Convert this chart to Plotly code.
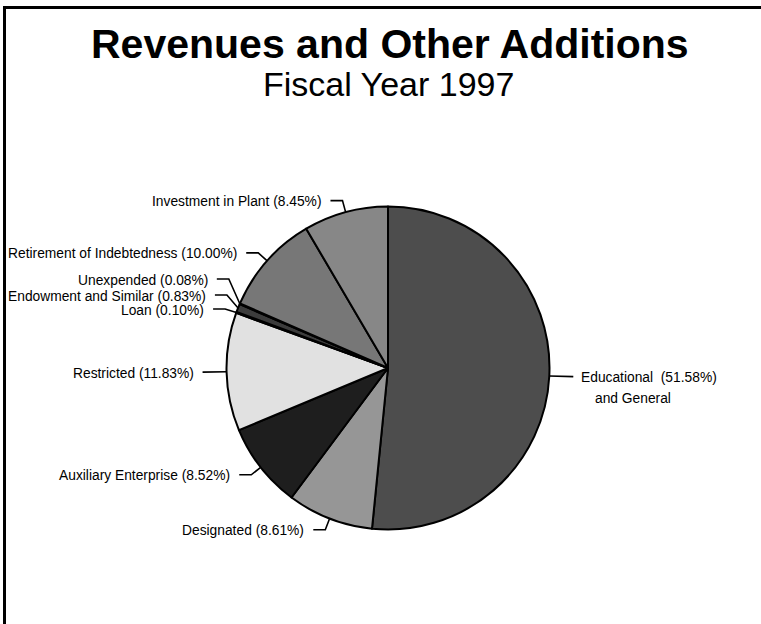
import numpy as np
import plotly.graph_objects as go

# ---- data ----
categories = ["Educational and General", "Designated", "Auxiliary Enterprise",
              "Restricted", "Loan", "Endowment and Similar", "Unexpended",
              "Retirement of Indebtedness", "Investment in Plant"]
shares = [51.58, 8.61, 8.52, 11.83, 0.10, 0.83, 0.08, 10.00, 8.45]
colors = ["#4d4d4d", "#969696", "#1e1e1e", "#e1e1e1", "#8a8a8a",
          "#3c3c3c", "#a0a0a0", "#777777", "#878787"]
title_text = "Revenues and Other Additions"
subtitle_text = "Fiscal Year 1997"

# ---- layout (pixels) ----
W, H = 761, 624
CX, CY, R = 388, 368, 161.5
ELBOW = 12
HSEG = 12
GAP_LEFT = 7
label_y_override = {4: 309, 5: 295, 6: 279}
FONT = "Liberation Sans, Arial, sans-serif"
LBL = 13.8

vals = np.array(shares)
total = vals.sum()
mid = (np.cumsum(vals) - vals / 2) / total
theta = 2 * np.pi * mid

fig = go.Figure()
fig.add_trace(go.Pie(
    labels=categories, values=shares, sort=False, direction="clockwise",
    rotation=0, textinfo="none", hoverinfo="label+percent",
    marker=dict(colors=colors, line=dict(color="black", width=2)),
    domain=dict(x=[(CX - R) / W, (CX + R) / W],
                y=[1 - (CY + R) / H, 1 - (CY - R) / H]),
    showlegend=False,
))

annotations = []
for i, (cat, v, th) in enumerate(zip(categories, shares, theta)):
    sx, sy = np.sin(th), -np.cos(th)
    px, py = CX + R * sx, CY + R * sy
    ex = px + ELBOW * sx
    ey = label_y_override.get(i, py + ELBOW * sy)
    side = 1 if sx > 0 else -1
    tx = ex + side * HSEG
    fig.add_trace(go.Scatter(x=[px, ex, tx], y=[py, ey, ey], mode="lines",
                             line=dict(color="black", width=1.6),
                             hoverinfo="skip", showlegend=False,
                             xaxis="x", yaxis="y"))
    pct = f"({v:.2f}%)"
    if i == 0:
        first, second = cat.split(" and ")[0], "and " + cat.split(" and ")[1]
        annotations.append(dict(x=tx + 6, y=ey + 1, xref="x", yref="y",
                                text=f"{first}\u00a0\u00a0{pct}", showarrow=False,
                                xanchor="left", yanchor="middle",
                                font=dict(family=FONT, size=LBL, color="black")))
        annotations.append(dict(x=tx + 20, y=ey + 22, xref="x", yref="y",
                                text=second, showarrow=False,
                                xanchor="left", yanchor="middle",
                                font=dict(family=FONT, size=LBL, color="black")))
    else:
        annotations.append(dict(x=tx - GAP_LEFT, y=ey + 1, xref="x", yref="y",
                                text=f"{cat} {pct}", showarrow=False,
                                xanchor="right", yanchor="middle", align="right",
                                font=dict(family=FONT, size=LBL, color="black")))

annotations.append(dict(x=W / 2 + 9, y=44, xref="x", yref="y", text=f"<b>{title_text}</b>",
                        showarrow=False, xanchor="center", yanchor="middle",
                        font=dict(family=FONT, size=41, color="black")))
annotations.append(dict(x=W / 2 + 8, y=84, xref="x", yref="y", text=subtitle_text,
                        showarrow=False, xanchor="center", yanchor="middle",
                        font=dict(family=FONT, size=34, color="black")))

shapes = [
    dict(type="line", xref="x", yref="y", x0=3, x1=W + 5, y0=7.5, y1=7.5,
         line=dict(color="black", width=3)),
    dict(type="line", xref="x", yref="y", x0=4.5, x1=4.5, y0=6, y1=H + 5,
         line=dict(color="black", width=3)),
]

fig.update_layout(
    width=W, height=H, margin=dict(l=0, r=0, t=0, b=0),
    paper_bgcolor="white", plot_bgcolor="rgba(0,0,0,0)",
    xaxis=dict(range=[0, W], visible=False, fixedrange=True, domain=[0, 1]),
    yaxis=dict(range=[H, 0], visible=False, fixedrange=True, domain=[0, 1]),
    annotations=annotations, shapes=shapes, showlegend=False,
)

fig.write_html("out.html", config={"displayModeBar": False},
               post_script="document.body.style.margin='0';document.body.style.overflow='hidden';")
